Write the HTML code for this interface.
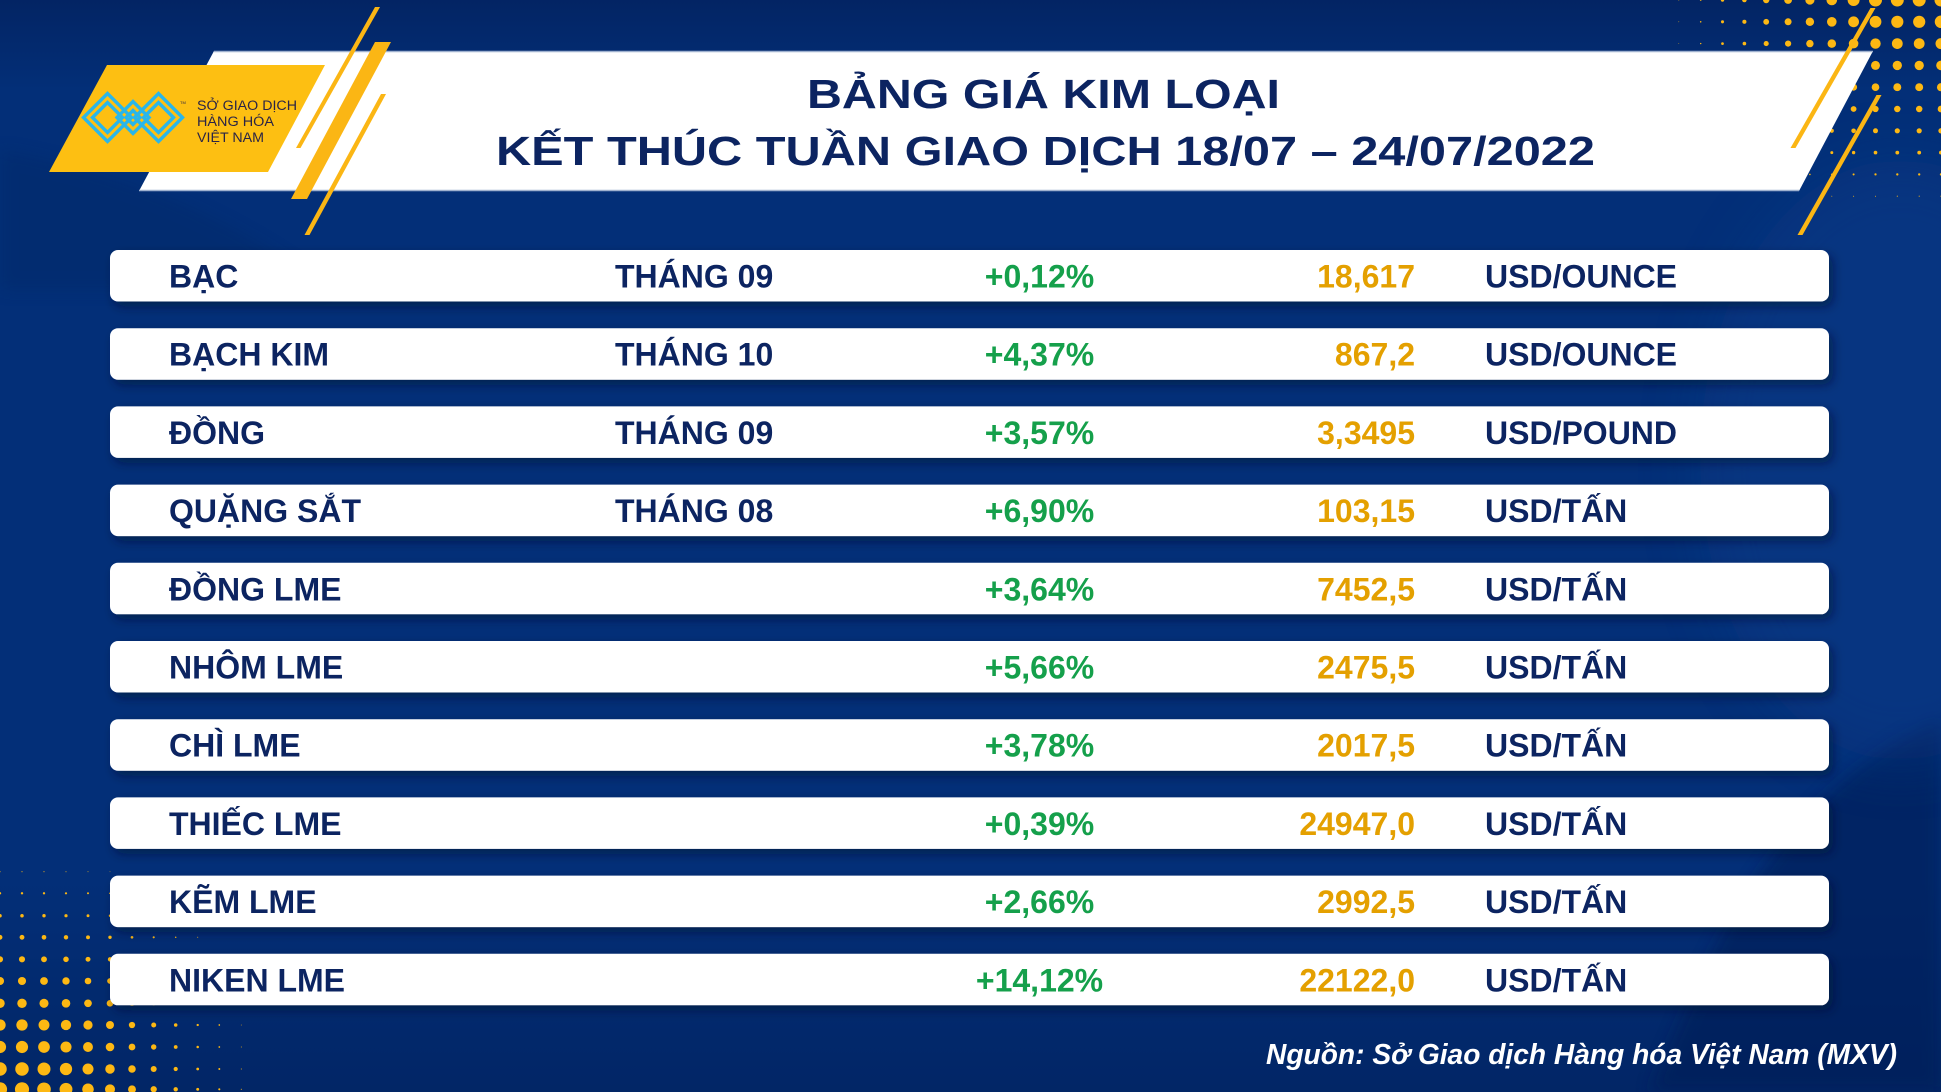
<!DOCTYPE html>
<html><head><meta charset="utf-8"><style>
html,body{margin:0;padding:0;width:1941px;height:1092px;overflow:hidden;background:#032f78}
svg{display:block;position:absolute;left:0;top:0;overflow:hidden}
</style></head><body>
<svg width="1941" height="1092" viewBox="0 0 1941 1092" xmlns="http://www.w3.org/2000/svg">
<defs>
<filter id="blur40" x="-50%" y="-50%" width="200%" height="200%"><feGaussianBlur stdDeviation="30"/></filter>
<filter id="blur10" x="-20%" y="-20%" width="140%" height="140%"><feGaussianBlur stdDeviation="8"/></filter>
<filter id="sh" x="-5%" y="-40%" width="110%" height="200%"><feDropShadow dx="4" dy="5" stdDeviation="5" flood-color="#000b2e" flood-opacity="0.55"/></filter>
<linearGradient id="botg" x1="0" y1="0" x2="0" y2="1">
<stop offset="0" stop-color="#001a50" stop-opacity="0"/>
<stop offset="1" stop-color="#001a50" stop-opacity="0.45"/>
</linearGradient>
<linearGradient id="topg" x1="0" y1="0" x2="0" y2="1">
<stop offset="0" stop-color="#031d56" stop-opacity="0.6"/>
<stop offset="1" stop-color="#031d56" stop-opacity="0"/>
</linearGradient>
<clipPath id="frame"><rect width="1941" height="1092"/></clipPath>
</defs>
<g clip-path="url(#frame)">
<rect width="1941" height="1092" fill="#032f78"/>
<!-- background shapes -->
<rect x="0" y="0" width="1941" height="90" fill="url(#topg)"/>
<path d="M0,150 C120,170 230,215 330,290 L0,290 Z" fill="#012560" opacity="0.3" filter="url(#blur10)"/>
<rect x="0" y="880" width="1941" height="212" fill="url(#botg)"/>
<path d="M1941,720 C1840,760 1750,860 1690,1000 L1650,1092 L1941,1092 Z" fill="#011f55" opacity="0.55" filter="url(#blur10)"/>
<ellipse cx="1900" cy="460" rx="200" ry="300" fill="#0a3c8c" opacity="0.45" filter="url(#blur40)"/>

<!-- top-right dots -->
<g fill="#fdb813">
<circle cx="1941" cy="0" r="6.5"/><circle cx="1919.2" cy="0" r="6.5"/><circle cx="1897.3" cy="0" r="6.5"/><circle cx="1875.5" cy="0" r="6.5"/><circle cx="1853.6" cy="0" r="6"/><circle cx="1831.8" cy="0" r="5.3"/><circle cx="1809.9" cy="0" r="4.6"/><circle cx="1788.1" cy="0" r="3.9"/><circle cx="1766.2" cy="0" r="3.2"/><circle cx="1744.4" cy="0" r="2.3"/><circle cx="1722.5" cy="0" r="1.7"/><circle cx="1700.7" cy="0" r="0.85"/><circle cx="1678.8" cy="0" r="0.45"/>
<circle cx="1941" cy="21.8" r="6.24"/><circle cx="1919.2" cy="21.8" r="6.1"/><circle cx="1897.3" cy="21.8" r="6.1"/><circle cx="1875.5" cy="21.8" r="5.9"/><circle cx="1853.6" cy="21.8" r="5.4"/><circle cx="1831.8" cy="21.8" r="4.8"/><circle cx="1809.9" cy="21.8" r="4.2"/><circle cx="1788.1" cy="21.8" r="3.5"/><circle cx="1766.2" cy="21.8" r="2.9"/><circle cx="1744.4" cy="21.8" r="2.06"/><circle cx="1722.5" cy="21.8" r="1.54"/><circle cx="1700.7" cy="21.8" r="0.77"/><circle cx="1678.8" cy="21.8" r="0.4"/>
<circle cx="1941" cy="43.6" r="5.5"/><circle cx="1919.2" cy="43.6" r="5.4"/><circle cx="1897.3" cy="43.6" r="5.4"/><circle cx="1875.5" cy="43.6" r="5.2"/><circle cx="1853.6" cy="43.6" r="4.8"/><circle cx="1831.8" cy="43.6" r="4.24"/><circle cx="1809.9" cy="43.6" r="3.7"/><circle cx="1788.1" cy="43.6" r="3.1"/><circle cx="1766.2" cy="43.6" r="2.54"/><circle cx="1744.4" cy="43.6" r="1.8"/><circle cx="1722.5" cy="43.6" r="1.36"/><circle cx="1700.7" cy="43.6" r="0.68"/><circle cx="1678.8" cy="43.6" r="0.35"/>
<circle cx="1941" cy="65.4" r="4.8"/><circle cx="1919.2" cy="65.4" r="4.67"/><circle cx="1897.3" cy="65.4" r="4.67"/><circle cx="1875.5" cy="65.4" r="4.5"/><circle cx="1853.6" cy="65.4" r="4.16"/><circle cx="1831.8" cy="65.4" r="3.68"/><circle cx="1809.9" cy="65.4" r="3.2"/><circle cx="1788.1" cy="65.4" r="2.7"/><circle cx="1766.2" cy="65.4" r="2.2"/><circle cx="1744.4" cy="65.4" r="1.58"/><circle cx="1722.5" cy="65.4" r="1.18"/>
<circle cx="1941" cy="87.2" r="4.06"/><circle cx="1919.2" cy="87.2" r="3.96"/><circle cx="1897.3" cy="87.2" r="3.96"/><circle cx="1875.5" cy="87.2" r="3.84"/><circle cx="1853.6" cy="87.2" r="3.5"/><circle cx="1831.8" cy="87.2" r="3.12"/><circle cx="1809.9" cy="87.2" r="2.7"/><circle cx="1788.1" cy="87.2" r="2.28"/>
<circle cx="1941" cy="109" r="3.33"/><circle cx="1919.2" cy="109" r="3.25"/><circle cx="1897.3" cy="109" r="3.25"/><circle cx="1875.5" cy="109" r="3.15"/><circle cx="1853.6" cy="109" r="2.9"/><circle cx="1831.8" cy="109" r="2.56"/><circle cx="1809.9" cy="109" r="2.23"/>
<circle cx="1941" cy="130.8" r="2.65"/><circle cx="1919.2" cy="130.8" r="2.6"/><circle cx="1897.3" cy="130.8" r="2.6"/><circle cx="1875.5" cy="130.8" r="2.5"/><circle cx="1853.6" cy="130.8" r="2.3"/><circle cx="1831.8" cy="130.8" r="2.04"/><circle cx="1809.9" cy="130.8" r="1.77"/>
<circle cx="1941" cy="152.6" r="1.92"/><circle cx="1919.2" cy="152.6" r="1.88"/><circle cx="1897.3" cy="152.6" r="1.88"/><circle cx="1875.5" cy="152.6" r="1.82"/><circle cx="1853.6" cy="152.6" r="1.67"/><circle cx="1831.8" cy="152.6" r="1.48"/><circle cx="1809.9" cy="152.6" r="1.29"/><circle cx="1788.1" cy="152.6" r="1.08"/>
<circle cx="1941" cy="174.4" r="1.2"/><circle cx="1919.2" cy="174.4" r="1.17"/><circle cx="1897.3" cy="174.4" r="1.17"/><circle cx="1875.5" cy="174.4" r="1.13"/><circle cx="1853.6" cy="174.4" r="1.04"/><circle cx="1831.8" cy="174.4" r="0.92"/><circle cx="1809.9" cy="174.4" r="0.8"/><circle cx="1788.1" cy="174.4" r="0.67"/>
<circle cx="1941" cy="196.2" r="0.55"/><circle cx="1919.2" cy="196.2" r="0.55"/><circle cx="1897.3" cy="196.2" r="0.55"/><circle cx="1875.5" cy="196.2" r="0.5"/><circle cx="1853.6" cy="196.2" r="0.5"/><circle cx="1831.8" cy="196.2" r="0.45"/>
</g>

<!-- bottom-left dots -->
<g fill="#fdb813">
<circle cx="0" cy="871.7" r="0.54"/><circle cx="22" cy="871.7" r="0.54"/><circle cx="44" cy="871.7" r="0.52"/><circle cx="66" cy="871.7" r="0.49"/><circle cx="88" cy="871.7" r="0.44"/><circle cx="110" cy="871.7" r="0.38"/>
<circle cx="0" cy="893.3" r="1.22"/><circle cx="22" cy="893.3" r="1.22"/><circle cx="44" cy="893.3" r="1.17"/><circle cx="66" cy="893.3" r="1.11"/><circle cx="88" cy="893.3" r="0.99"/><circle cx="110" cy="893.3" r="0.86"/>
<circle cx="0" cy="915.7" r="1.76"/><circle cx="22" cy="915.7" r="1.76"/><circle cx="44" cy="915.7" r="1.69"/><circle cx="66" cy="915.7" r="1.6"/><circle cx="88" cy="915.7" r="1.43"/><circle cx="110" cy="915.7" r="1.24"/>
<circle cx="0" cy="937.3" r="2.43"/><circle cx="22" cy="937.3" r="2.43"/><circle cx="44" cy="937.3" r="2.34"/><circle cx="66" cy="937.3" r="2.21"/><circle cx="88" cy="937.3" r="1.98"/><circle cx="110" cy="937.3" r="1.71"/><circle cx="132" cy="937.3" r="1.35"/><circle cx="153.7" cy="937.3" r="1.08"/><circle cx="175.7" cy="937.3" r="0.76"/><circle cx="197.7" cy="937.3" r="0.5"/>
<circle cx="0" cy="959.3" r="3.04"/><circle cx="22" cy="959.3" r="3.04"/><circle cx="44" cy="959.3" r="2.93"/><circle cx="66" cy="959.3" r="2.77"/><circle cx="88" cy="959.3" r="2.48"/><circle cx="110" cy="959.3" r="2.14"/>
<circle cx="0" cy="981" r="4.05"/><circle cx="22" cy="981" r="4.05"/><circle cx="44" cy="981" r="3.9"/><circle cx="66" cy="981" r="3.69"/><circle cx="88" cy="981" r="3.3"/><circle cx="110" cy="981" r="2.85"/>
<circle cx="0" cy="1003.3" r="4.73"/><circle cx="22" cy="1003.3" r="4.73"/><circle cx="44" cy="1003.3" r="4.55"/><circle cx="66" cy="1003.3" r="4.31"/><circle cx="88" cy="1003.3" r="3.85"/><circle cx="110" cy="1003.3" r="3.33"/><circle cx="132" cy="1003.3" r="2.63"/><circle cx="153.7" cy="1003.3" r="2.1"/><circle cx="175.7" cy="1003.3" r="1.47"/><circle cx="197.7" cy="1003.3" r="0.98"/><circle cx="219.3" cy="1003.3" r="0.7"/><circle cx="241.3" cy="1003.3" r="0.35"/>
<circle cx="0" cy="1025" r="5.67"/><circle cx="22" cy="1025" r="5.67"/><circle cx="44" cy="1025" r="5.46"/><circle cx="66" cy="1025" r="5.17"/><circle cx="88" cy="1025" r="4.62"/><circle cx="110" cy="1025" r="3.99"/><circle cx="132" cy="1025" r="3.15"/><circle cx="153.7" cy="1025" r="2.52"/><circle cx="175.7" cy="1025" r="1.76"/><circle cx="197.7" cy="1025" r="1.18"/><circle cx="219.3" cy="1025" r="0.84"/><circle cx="241.3" cy="1025" r="0.42"/>
<circle cx="0" cy="1047" r="6.08"/><circle cx="22" cy="1047" r="6.08"/><circle cx="44" cy="1047" r="5.85"/><circle cx="66" cy="1047" r="5.54"/><circle cx="88" cy="1047" r="4.95"/><circle cx="110" cy="1047" r="4.28"/><circle cx="132" cy="1047" r="3.38"/><circle cx="153.7" cy="1047" r="2.7"/><circle cx="175.7" cy="1047" r="1.89"/><circle cx="197.7" cy="1047" r="1.26"/><circle cx="219.3" cy="1047" r="0.9"/><circle cx="241.3" cy="1047" r="0.45"/>
<circle cx="0" cy="1069" r="6.75"/><circle cx="22" cy="1069" r="6.75"/><circle cx="44" cy="1069" r="6.5"/><circle cx="66" cy="1069" r="6.15"/><circle cx="88" cy="1069" r="5.5"/><circle cx="110" cy="1069" r="4.75"/><circle cx="132" cy="1069" r="3.75"/><circle cx="153.7" cy="1069" r="3"/><circle cx="175.7" cy="1069" r="2.1"/><circle cx="197.7" cy="1069" r="1.4"/><circle cx="219.3" cy="1069" r="1"/><circle cx="241.3" cy="1069" r="0.5"/>
<path d="M0,1092 L0,1082.21 A7.09,7.09 0 0 1 6.56,1092 Z"/>
<path d="M15.44,1092 A7.09,7.09 0 1 1 28.56,1092 Z"/>
<path d="M37.73,1092 A6.83,6.83 0 1 1 50.27,1092 Z"/>
<path d="M60.13,1092 A6.46,6.46 0 1 1 71.87,1092 Z"/>
<path d="M82.89,1092 A5.78,5.78 0 1 1 93.11,1092 Z"/>
<path d="M105.8,1092 A4.99,4.99 0 1 1 114.2,1092 Z"/>
<path d="M129.13,1092 A3.94,3.94 0 1 1 134.87,1092 Z"/>
<path d="M152.08,1092 A3.15,3.15 0 1 1 155.32,1092 Z"/>
<circle cx="175.7" cy="1089.3" r="2.2"/><circle cx="197.7" cy="1089.3" r="1.47"/><circle cx="219.3" cy="1089.3" r="1.05"/><circle cx="241.3" cy="1089.3" r="0.53"/>
</g>

<!-- header banner -->
<polygon points="214,51 1873,51 1799,191 139,191" fill="#ffffff"/>
<line x1="214" y1="51.5" x2="1873" y2="51.5" stroke="#9fb1cf" stroke-width="1.5"/>
<line x1="139" y1="190.5" x2="1799" y2="190.5" stroke="#9fb1cf" stroke-width="1.5"/>

<!-- logo -->
<polygon points="107,65 325,65 268,172 49,172" fill="#fdbf12"/>
<g fill="none" stroke="#2ab6e9" stroke-width="3.4" stroke-linejoin="miter">
<polygon points="83.5,117.5 107.5,93.5 131.5,117.5 107.5,141.5"/>
<polygon points="92.5,117.5 107.5,102.5 122.5,117.5 107.5,132.5"/>
<polygon points="134.5,117.5 158.5,93.5 182.5,117.5 158.5,141.5"/>
<polygon points="143.5,117.5 158.5,102.5 173.5,117.5 158.5,132.5"/>
<polygon points="117,117.5 133,101.5 149,117.5 133,133.5"/>
<polygon points="126,117.5 133,110.5 140,117.5 133,124.5"/>
</g>
<text x="180" y="104" font-family="Liberation Sans, sans-serif" font-size="4" fill="#2a2446">TM</text>
<g font-family="Liberation Sans, sans-serif" font-size="13.5" fill="#2a2446">
<text x="197" y="110" textLength="100" lengthAdjust="spacingAndGlyphs">SỞ GIAO DỊCH</text>
<text x="197" y="126" textLength="77" lengthAdjust="spacingAndGlyphs">HÀNG HÓA</text>
<text x="197" y="142" textLength="67" lengthAdjust="spacingAndGlyphs">VIỆT NAM</text>
</g>

<!-- stripes -->
<g fill="#fbb614">
<polygon points="375,7 380,7 300.5,148 296,148"/>
<polygon points="375,42 391,42 307,199 291,199"/>
<polygon points="381,94 386,94 309.5,235 304.5,235"/>
<polygon points="1870.5,8 1875.5,8 1795.5,148 1790.5,148"/>
<polygon points="1876.5,95 1881.5,95 1802.5,235 1797.5,235"/>
</g>

<!-- title -->
<g font-family="Liberation Sans, sans-serif" font-weight="bold" font-size="40.5" fill="#0c2461" text-anchor="middle">
<text x="1043.5" y="108" textLength="473" lengthAdjust="spacingAndGlyphs">BẢNG GIÁ KIM LOẠI</text>
<text x="1045.5" y="165" textLength="1099" lengthAdjust="spacingAndGlyphs">KẾT THÚC TUẦN GIAO DỊCH 18/07 – 24/07/2022</text>
</g>

<!-- rows -->
<g fill="#ffffff" filter="url(#sh)">
<rect x="110" y="250" width="1719" height="51.5" rx="8"/>
<rect x="110" y="328.2" width="1719" height="51.5" rx="8"/>
<rect x="110" y="406.4" width="1719" height="51.5" rx="8"/>
<rect x="110" y="484.6" width="1719" height="51.5" rx="8"/>
<rect x="110" y="562.8" width="1719" height="51.5" rx="8"/>
<rect x="110" y="641" width="1719" height="51.5" rx="8"/>
<rect x="110" y="719.2" width="1719" height="51.5" rx="8"/>
<rect x="110" y="797.4" width="1719" height="51.5" rx="8"/>
<rect x="110" y="875.6" width="1719" height="51.5" rx="8"/>
<rect x="110" y="953.8" width="1719" height="51.5" rx="8"/>
</g>

<g font-family="Liberation Sans, sans-serif" font-weight="bold" font-size="32">
<g fill="#0c2461">
<text x="169" y="287.5">BẠC</text>
<text x="169" y="365.7">BẠCH KIM</text>
<text x="169" y="443.9">ĐỒNG</text>
<text x="169" y="522.1">QUẶNG SẮT</text>
<text x="169" y="600.3">ĐỒNG LME</text>
<text x="169" y="678.5">NHÔM LME</text>
<text x="169" y="756.7">CHÌ LME</text>
<text x="169" y="834.9">THIẾC LME</text>
<text x="169" y="913.1">KẼM LME</text>
<text x="169" y="991.3">NIKEN LME</text>
<text x="615" y="287.5">THÁNG 09</text>
<text x="615" y="365.7">THÁNG 10</text>
<text x="615" y="443.9">THÁNG 09</text>
<text x="615" y="522.1">THÁNG 08</text>
<text x="1485" y="287.5">USD/OUNCE</text>
<text x="1485" y="365.7">USD/OUNCE</text>
<text x="1485" y="443.9">USD/POUND</text>
<text x="1485" y="522.1">USD/TẤN</text>
<text x="1485" y="600.3">USD/TẤN</text>
<text x="1485" y="678.5">USD/TẤN</text>
<text x="1485" y="756.7">USD/TẤN</text>
<text x="1485" y="834.9">USD/TẤN</text>
<text x="1485" y="913.1">USD/TẤN</text>
<text x="1485" y="991.3">USD/TẤN</text>
</g>
<g fill="#15a04b" text-anchor="middle">
<text x="1039.5" y="287.5">+0,12%</text>
<text x="1039.5" y="365.7">+4,37%</text>
<text x="1039.5" y="443.9">+3,57%</text>
<text x="1039.5" y="522.1">+6,90%</text>
<text x="1039.5" y="600.3">+3,64%</text>
<text x="1039.5" y="678.5">+5,66%</text>
<text x="1039.5" y="756.7">+3,78%</text>
<text x="1039.5" y="834.9">+0,39%</text>
<text x="1039.5" y="913.1">+2,66%</text>
<text x="1039.5" y="991.3">+14,12%</text>
</g>
<g fill="#e4a000" text-anchor="end">
<text x="1415" y="287.5">18,617</text>
<text x="1415" y="365.7">867,2</text>
<text x="1415" y="443.9">3,3495</text>
<text x="1415" y="522.1">103,15</text>
<text x="1415" y="600.3">7452,5</text>
<text x="1415" y="678.5">2475,5</text>
<text x="1415" y="756.7">2017,5</text>
<text x="1415" y="834.9">24947,0</text>
<text x="1415" y="913.1">2992,5</text>
<text x="1415" y="991.3">22122,0</text>
</g>
</g>

<!-- footer -->
<text x="1266" y="1064" font-family="Liberation Sans, sans-serif" font-weight="bold" font-style="italic" font-size="29" fill="#ffffff" textLength="631" lengthAdjust="spacingAndGlyphs">Nguồn: Sở Giao dịch Hàng hóa Việt Nam (MXV)</text>
</g>
</svg>
</body></html>
